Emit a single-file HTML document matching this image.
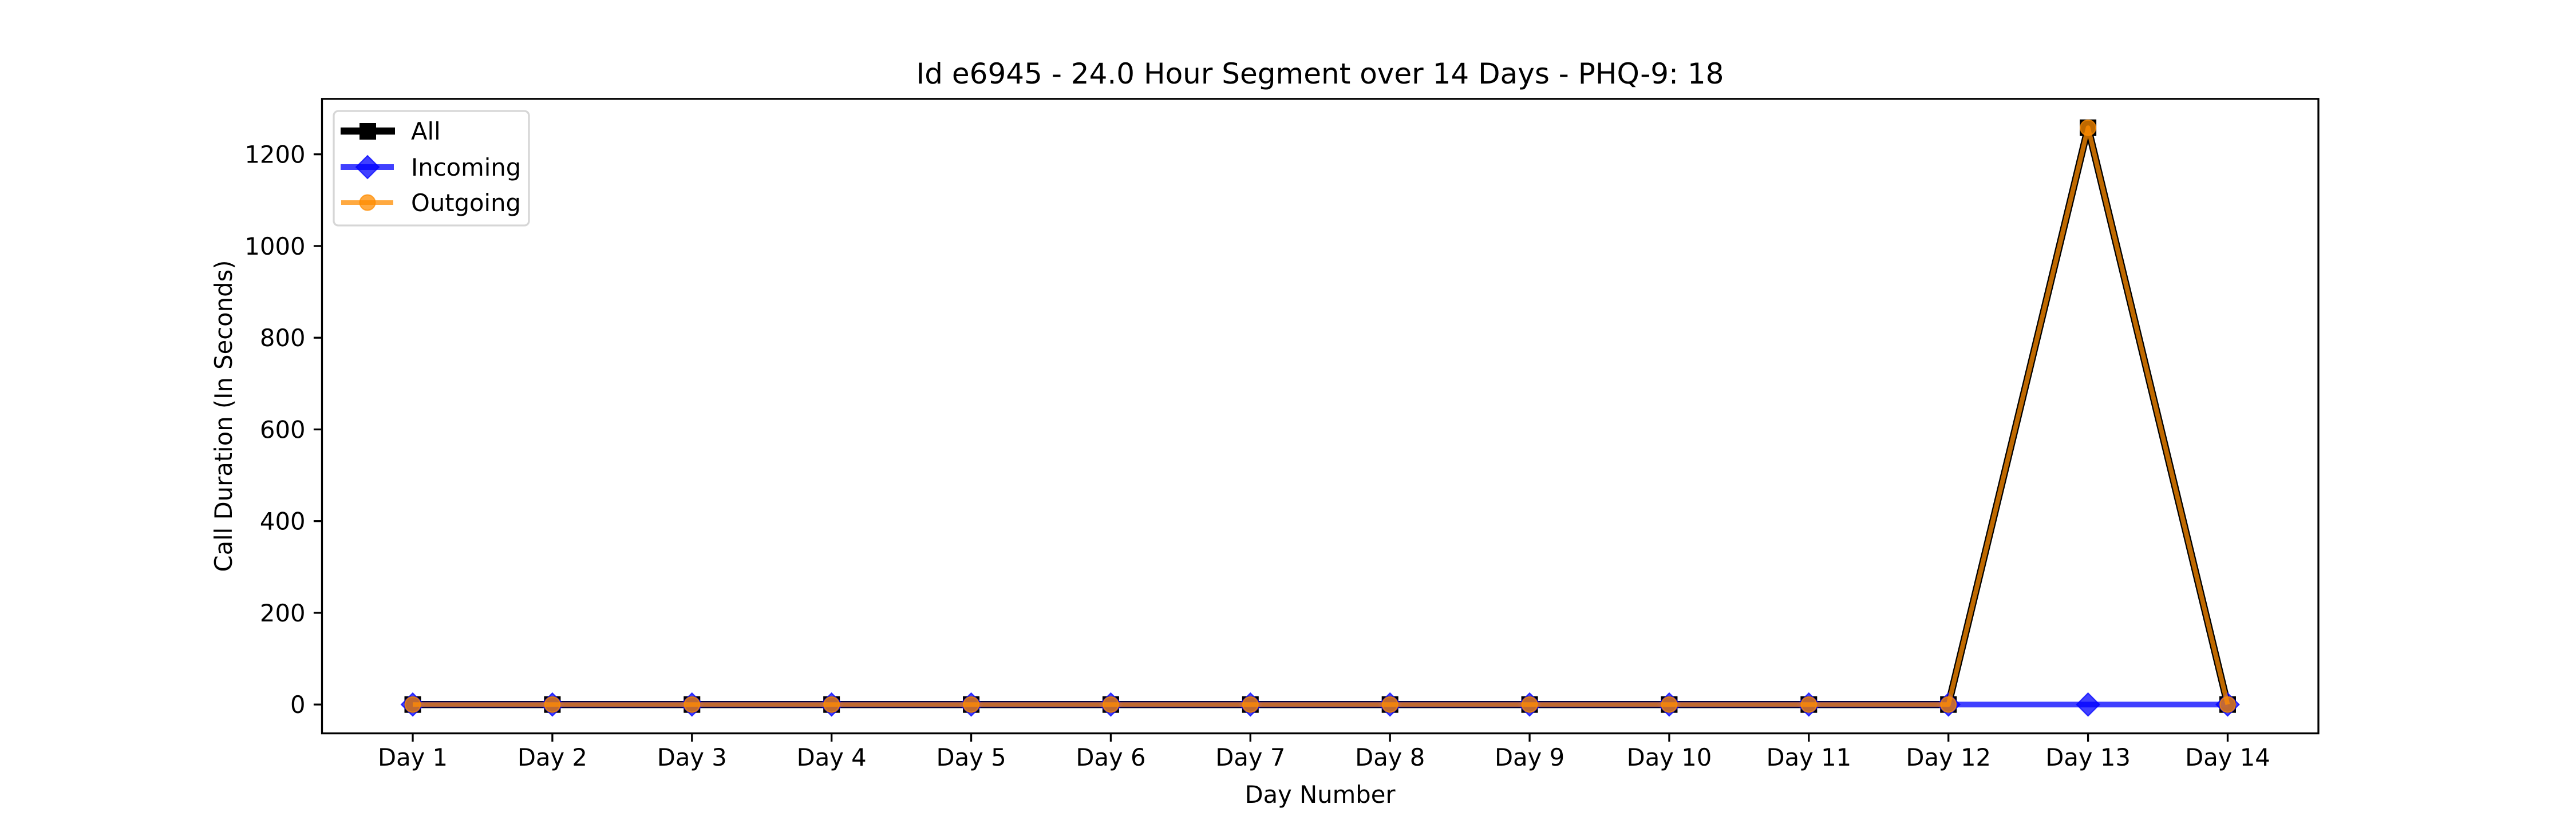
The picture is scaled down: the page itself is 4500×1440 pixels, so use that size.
<!DOCTYPE html>
<html><head><meta charset="utf-8"><style>
html,body{margin:0;padding:0;background:#fff;}
svg{display:block;font-family:"DejaVu Sans","Liberation Sans",sans-serif;}
</style></head><body>
<svg id="chart" width="4500" height="1440" viewBox="0 0 4500 1440" xmlns="http://www.w3.org/2000/svg">
<rect width="4500" height="1440" fill="#fff"/>
<text x="2306" y="146" font-size="50" text-anchor="middle">Id e6945 - 24.0 Hour Segment over 14 Days - PHQ-9: 18</text>
<g id="plot"></g>
<rect x="562.5" y="172.8" width="3487.5" height="1108.8" fill="none" stroke="#000" stroke-width="3.3"/>
<g id="ticks"></g>
<text x="2306" y="1403" font-size="41.7" text-anchor="middle">Day Number</text>
<text transform="translate(405,727) rotate(-90)" font-size="41.7" text-anchor="middle">Call Duration (In Seconds)</text>
<g>
<rect x="583" y="194" width="341" height="200" rx="8" fill="#fff" fill-opacity="0.8" stroke="#d6d6d6" stroke-width="3.3"/>
<g>
<line x1="595" y1="229" x2="690" y2="229" stroke="#000" stroke-width="12.5"/>
<rect x="628" y="215" width="29" height="29" fill="#000"/>
<text x="718" y="244" font-size="41.7">All</text></g>
<g>
<line x1="595" y1="292" x2="688" y2="292" stroke="#0000ff" stroke-opacity="0.75" stroke-width="10"/>
<polygon points="642,272 662,292 642,312 622,292" fill="#0000ff" fill-opacity="0.75" stroke="#0000ff" stroke-opacity="0.75" stroke-width="2"/>
<text x="718" y="307" font-size="41.7">Incoming</text></g>
<g>
<line x1="596" y1="354" x2="687" y2="354" stroke="#ff8c00" stroke-opacity="0.75" stroke-width="8"/>
<circle cx="642" cy="354" r="13.5" fill="#ff8c00" fill-opacity="0.75" stroke="#ff8c00" stroke-opacity="0.75" stroke-width="2"/>
<text x="718" y="369" font-size="41.7">Outgoing</text></g>
</g>
</svg>
<script>
const categories=["Day 1","Day 2","Day 3","Day 4","Day 5","Day 6","Day 7","Day 8","Day 9","Day 10","Day 11","Day 12","Day 13","Day 14"];
const allValues=[0,0,0,0,0,0,0,0,0,0,0,0,1258,0];
const incomingValues=[0,0,0,0,0,0,0,0,0,0,0,0,0,0];
const outgoingValues=[0,0,0,0,0,0,0,0,0,0,0,0,1258,0];
const yTicks=[0,200,400,600,800,1000,1200];

const NS="http://www.w3.org/2000/svg";
const L=562.5,R=4050,T=172.8,B=1281.6;
const n=categories.length;
const xmin=-0.05*(n-1),xmax=(n-1)*1.05;
const all=[...allValues,...incomingValues,...outgoingValues];
const dmax=Math.max(...all),dmin=Math.min(...all);
const ymin=dmin-0.05*(dmax-dmin),ymax=dmax+0.05*(dmax-dmin);
const xs=i=>L+(i-xmin)/(xmax-xmin)*(R-L);
const ys=v=>B-(v-ymin)/(ymax-ymin)*(B-T);
function mk(tag,attrs,parent){const e=document.createElementNS(NS,tag);for(const k in attrs)e.setAttribute(k,attrs[k]);parent.appendChild(e);return e;}
const plot=document.getElementById('plot');
const ticks=document.getElementById('ticks');

function series(vals,name,color,lw,op,marker){
  const g=mk('g',{},plot);
  
  
  const pts=vals.map((v,i)=>xs(i)+','+ys(v)).join(' ');
  const pl=mk('polyline',{points:pts,fill:'none',stroke:color,'stroke-width':lw,'stroke-opacity':op,'stroke-linejoin':'round'},g);
  
  
  vals.forEach((v,i)=>{
    const x=xs(i),y=ys(v);let m;
    if(marker==='s')m=mk('rect',{x:x-14.5,y:y-14.5,width:29,height:29,fill:color},g);
    else if(marker==='d')m=mk('polygon',{points:`${x},${y-20} ${x+20},${y} ${x},${y+20} ${x-20},${y}`,fill:color,'fill-opacity':op,stroke:color,'stroke-opacity':op,'stroke-width':2},g);
    else m=mk('circle',{cx:x,cy:y,r:13.5,fill:color,'fill-opacity':op,stroke:color,'stroke-opacity':op,'stroke-width':2},g);
    
    
  });
}
series(allValues,'all','#000000',12.5,1,'s');
series(incomingValues,'incoming','#0000ff',10,0.75,'d');
series(outgoingValues,'outgoing','#ff8c00',8,0.75,'o');

categories.forEach((c,i)=>{
  const x=xs(i);
  const t=mk('line',{x1:x,y1:B,x2:x,y2:B+14.6,stroke:'#000','stroke-width':3.3},ticks);
  
  
  const tx=mk('text',{x:x,y:1338,'font-size':41.7,'text-anchor':'middle'},ticks);
  tx.textContent=c;
  
  
});
yTicks.forEach(v=>{
  const y=ys(v);
  const t=mk('line',{x1:L-14.6,y1:y,x2:L,y2:y,stroke:'#000','stroke-width':3.3},ticks);
  
  
  const tx=mk('text',{x:L-29,y:y+15,'font-size':41.7,'text-anchor':'end'},ticks);
  tx.textContent=String(v);
  
  
});
</script>
</body></html>
